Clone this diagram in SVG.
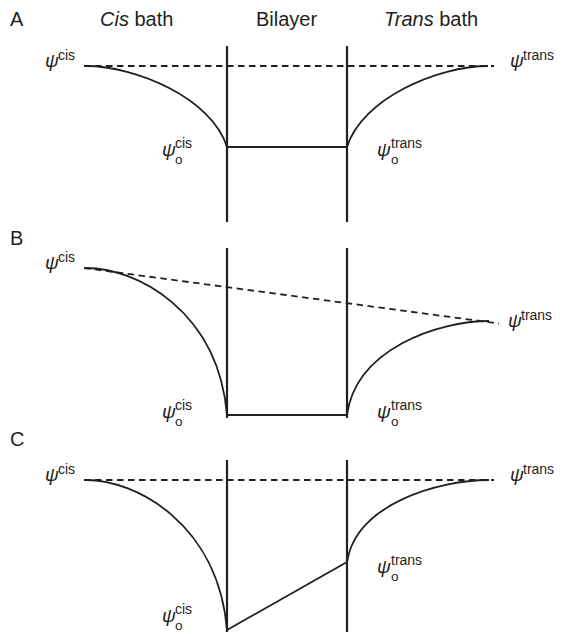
<svg xmlns="http://www.w3.org/2000/svg" width="562" height="634" viewBox="0 0 562 634">
<style>
.bg{fill:#ffffff}
.lbl{font-family:"Liberation Sans",Arial,sans-serif;font-size:20px;fill:#231f20}
.it{font-style:italic}
.psi{font-family:"Liberation Sans",Arial,sans-serif;font-size:19px;font-style:italic;fill:#231f20}
.sup{font-family:"Liberation Sans",Arial,sans-serif;font-size:14px;fill:#231f20}
.sub{font-family:"Liberation Sans",Arial,sans-serif;font-size:13.5px;fill:#231f20}
.wall{stroke:#231f20;stroke-width:2.2;fill:none}
.curve{stroke:#231f20;stroke-width:1.8;fill:none}
.dash{stroke:#231f20;stroke-width:1.8;fill:none;stroke-dasharray:6.5 4.5}
</style>
<rect class="bg" x="0" y="0" width="562" height="634"/>

<g id="header">
<text class="lbl" x="10" y="26">A</text>
<text class="lbl" x="100" y="26"><tspan class="it">Cis</tspan> bath</text>
<text class="lbl" x="256" y="26">Bilayer</text>
<text class="lbl" x="384" y="26"><tspan class="it">Trans</tspan> bath</text>
</g>

<g id="connectors">
<line class="wall" x1="227" y1="46" x2="227" y2="222"/>
<line class="wall" x1="347" y1="46" x2="347" y2="222"/>
<line class="dash" x1="84" y1="66" x2="494" y2="66"/>
<path class="curve" d="M86,66 C136,66 212,98.4 227,147"/>
<line class="curve" x1="227" y1="147" x2="347" y2="147"/>
<path class="curve" d="M347,147 C362,98.4 438,66 488,66"/>

<line class="wall" x1="227" y1="248" x2="227" y2="418"/>
<line class="wall" x1="347" y1="248" x2="347" y2="418"/>
<line class="dash" x1="84" y1="268" x2="499" y2="323.5"/>
<path class="curve" d="M86,268 C136,268 218,310 227,415"/>
<line class="curve" x1="227" y1="415" x2="347" y2="415"/>
<path class="curve" d="M347,415 C356,348.3 439,321 489,321"/>

<line class="wall" x1="227" y1="460" x2="227" y2="632"/>
<line class="wall" x1="347" y1="460" x2="347" y2="632"/>
<line class="dash" x1="84" y1="480" x2="494" y2="480"/>
<path class="curve" d="M86,480 C136,480 218,523.5 227,630"/>
<line class="curve" x1="227" y1="630" x2="347" y2="562"/>
<path class="curve" d="M347,562 C356,503.8 439,480 489,480"/>
</g>

<g id="panelA">
<text class="psi" x="45" y="67">ψ</text><text class="sup" x="58" y="60">cis</text>
<text class="psi" x="510" y="67">ψ</text><text class="sup" x="523" y="60">trans</text>
<text class="psi" x="162" y="156">ψ</text><text class="sup" x="175" y="148">cis</text><text class="sub" x="175" y="164">o</text>
<text class="psi" x="377" y="156">ψ</text><text class="sup" x="391" y="148">trans</text><text class="sub" x="391" y="164">o</text>
</g>

<g id="panelB">
<text class="lbl" x="10" y="245">B</text>
<text class="psi" x="45" y="269">ψ</text><text class="sup" x="58" y="262">cis</text>
<text class="psi" x="508" y="327">ψ</text><text class="sup" x="521" y="320">trans</text>
<text class="psi" x="162" y="418">ψ</text><text class="sup" x="175" y="410">cis</text><text class="sub" x="175" y="426">o</text>
<text class="psi" x="377" y="418">ψ</text><text class="sup" x="391" y="410">trans</text><text class="sub" x="391" y="426">o</text>
</g>

<g id="panelC">
<text class="lbl" x="10" y="446">C</text>
<text class="psi" x="45" y="481">ψ</text><text class="sup" x="58" y="474">cis</text>
<text class="psi" x="510" y="481">ψ</text><text class="sup" x="523" y="474">trans</text>
<text class="psi" x="162" y="622">ψ</text><text class="sup" x="175" y="614">cis</text><text class="sub" x="175" y="630">o</text>
<text class="psi" x="377" y="573">ψ</text><text class="sup" x="391" y="565">trans</text><text class="sub" x="391" y="581">o</text>
</g>
</svg>
